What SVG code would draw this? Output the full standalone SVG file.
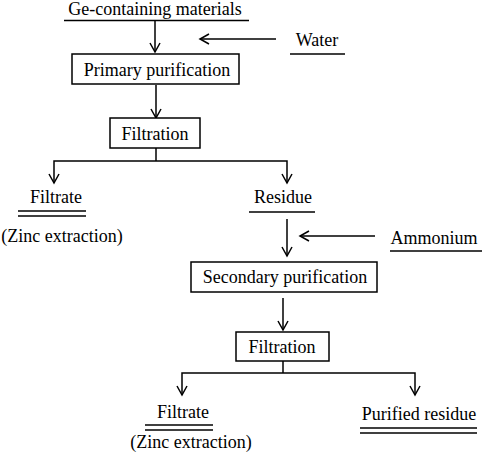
<svg xmlns="http://www.w3.org/2000/svg" width="484" height="457" viewBox="0 0 484 457">
<defs>
<marker id="ah" markerWidth="12" markerHeight="12" refX="10" refY="6" orient="auto" markerUnits="userSpaceOnUse">
<path d="M1,1 L10,6 L1,11" fill="none" stroke="#000" stroke-width="1.5"/>
</marker>
<style>
.box{fill:#fff;stroke:#000;stroke-width:1.5}
.ln{fill:none;stroke:#000;stroke-width:1.5}
.arr{fill:none;stroke:#000;stroke-width:1.5;marker-end:url(#ah)}
</style>
</defs>
<rect width="484" height="457" fill="#fff"/>
<g id="connectors">
<line class="arr" x1="155" y1="21" x2="155" y2="52"/>
<line class="arr" x1="276" y1="39" x2="200" y2="39"/>
<line class="arr" x1="156" y1="85" x2="156" y2="118"/>
<polyline class="ln" points="156,148 156,161"/>
<polyline class="arr" points="156,161 54,161 54,183"/>
<polyline class="arr" points="156,161 287,161 287,183"/>
<line class="arr" x1="287" y1="219" x2="287" y2="256"/>
<line class="arr" x1="375" y1="236" x2="300" y2="236"/>
<line class="arr" x1="283" y1="298" x2="283" y2="330"/>
<polyline class="ln" points="283,361 283,373"/>
<polyline class="arr" points="283,373 182,373 182,395"/>
<polyline class="arr" points="283,373 415,373 415,395"/>
</g>
<g id="ge-materials">
<text x="155" y="15" text-anchor="middle" font-family="Liberation Serif" font-size="18">Ge-containing materials</text>
<line class="ln" x1="64" y1="20.5" x2="249" y2="20.5"/>
</g>
<g id="water">
<text x="317" y="46" text-anchor="middle" font-family="Liberation Serif" font-size="18">Water</text>
<line class="ln" x1="290" y1="54" x2="345" y2="54"/>
</g>
<g id="primary-purification">
<rect class="box" x="72" y="54" width="167" height="30"/>
<text x="157" y="76" text-anchor="middle" font-family="Liberation Serif" font-size="18">Primary purification</text>
</g>
<g id="filtration-1">
<rect class="box" x="110" y="118" width="90" height="30"/>
<text x="155" y="140" text-anchor="middle" font-family="Liberation Serif" font-size="18">Filtration</text>
</g>
<g id="filtrate-1">
<text x="56" y="203" text-anchor="middle" font-family="Liberation Serif" font-size="18">Filtrate</text>
<line class="ln" x1="18" y1="211" x2="86" y2="211"/>
<line class="ln" x1="18" y1="216" x2="86" y2="216"/>
<text x="62" y="242" text-anchor="middle" font-family="Liberation Serif" font-size="18">(Zinc extraction)</text>
</g>
<g id="residue">
<text x="283" y="203" text-anchor="middle" font-family="Liberation Serif" font-size="18">Residue</text>
<line class="ln" x1="249" y1="212" x2="315" y2="212"/>
</g>
<g id="ammonium">
<text x="434" y="244" text-anchor="middle" font-family="Liberation Serif" font-size="18">Ammonium</text>
<line class="ln" x1="390" y1="251" x2="482" y2="251"/>
</g>
<g id="secondary-purification">
<rect class="box" x="191" y="262" width="186" height="30"/>
<text x="285" y="283" text-anchor="middle" font-family="Liberation Serif" font-size="18">Secondary purification</text>
</g>
<g id="filtration-2">
<rect class="box" x="236" y="332" width="93" height="29"/>
<text x="282" y="353" text-anchor="middle" font-family="Liberation Serif" font-size="18">Filtration</text>
</g>
<g id="filtrate-2">
<text x="183" y="418" text-anchor="middle" font-family="Liberation Serif" font-size="18">Filtrate</text>
<line class="ln" x1="145" y1="425" x2="213" y2="425"/>
<line class="ln" x1="145" y1="430" x2="213" y2="430"/>
<text x="191" y="448" text-anchor="middle" font-family="Liberation Serif" font-size="18">(Zinc extraction)</text>
</g>
<g id="purified-residue">
<text x="419" y="420" text-anchor="middle" font-family="Liberation Serif" font-size="18">Purified residue</text>
<line class="ln" x1="360" y1="428" x2="477" y2="428"/>
<line class="ln" x1="360" y1="433" x2="477" y2="433"/>
</g>
</svg>
